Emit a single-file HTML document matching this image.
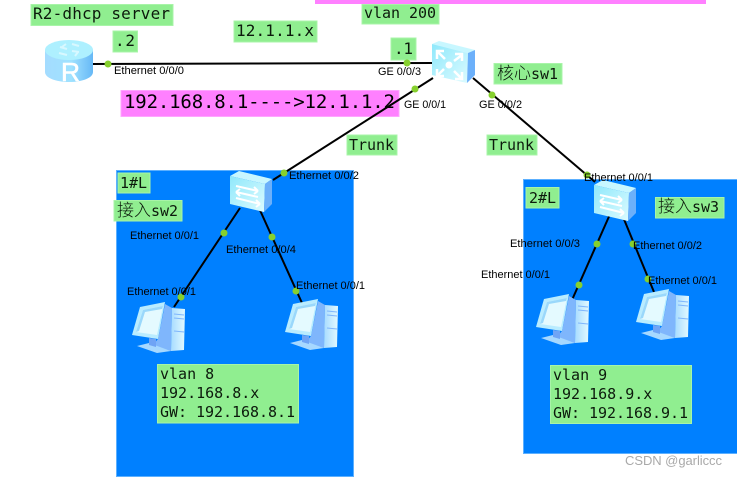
<!DOCTYPE html>
<html>
<head>
<meta charset="utf-8">
<style>
html,body{margin:0;padding:0;background:#fff;width:737px;height:477px;overflow:hidden}
svg{display:block}
.m{font-family:"DejaVu Sans Mono","Liberation Mono","Noto Sans CJK SC",monospace;font-size:15px;fill:#0c1a0c}
.k{font-family:"Noto Sans CJK SC","WenQuanYi Zen Hei",sans-serif;font-size:17px;font-weight:300}
.l{font-family:"Liberation Sans",Arial,sans-serif;font-size:11.2px;fill:#000}
.g{fill:#90ee90;stroke:#a8f4a8;stroke-width:1}
.c{stroke:#000;stroke-width:2;fill:none}
.d{fill:#86d02e}
</style>
</head>
<body>
<svg width="737" height="477" viewBox="0 0 737 477" xmlns="http://www.w3.org/2000/svg">
<defs>
<linearGradient id="sw" x1="0" y1="0" x2="1" y2="1"><stop offset="0" stop-color="#8fe8fb"/><stop offset="1" stop-color="#dcfbff"/></linearGradient>
<linearGradient id="rt" x1="0" y1="0" x2="1" y2="0"><stop offset="0" stop-color="#a4dcff"/><stop offset=".55" stop-color="#a0e2ff"/><stop offset="1" stop-color="#66b8f6"/></linearGradient>
<linearGradient id="tw" x1="0" y1="0" x2="1" y2="0"><stop offset="0" stop-color="#a8dcff"/><stop offset="1" stop-color="#e2f9ff"/></linearGradient>
<g id="switch">
<polygon points="1,5 10,0 43,8 36,13" fill="#c8f7ff"/>
<polygon points="1,5 36,13 35,41 1,33" fill="url(#sw)"/>
<polygon points="36,13 43,8 43,33 35,41" fill="#6cb0fa"/>
<g stroke="#fff" stroke-width="2" fill="none">
<path d="M7 15 L29 20 M29 20 l-4 -4 M29 20 l-4 3"/>
<path d="M29 26 L7 21 M7 21 l4 -3 M7 21 l4 4"/>
<path d="M7 27 L31 33 M31 33 l-4 -4 M31 33 l-4 3"/>
</g>
</g>
<g id="pc">
<polygon points="33,2 40,6 39,49 21,43 26,37" fill="#7fb6fc"/>
<polygon points="40,6 53,7 52,48 39,49" fill="url(#tw)"/>
<path d="M42 12 L52 13 M42 16 L52 17 M42 29 L52 30" stroke="#7fb6fc" stroke-width="1"/>
<polygon points="5,44 17,41 39,49 25,51" fill="#a6d8ff"/>
<polygon points="17,36 24,37 24,45 17,43" fill="#6fa4f5"/>
<polygon points="8,5 33,0 26,37 0,33" fill="#b9ecff"/>
<polygon points="11,8 31,4 25,33 4,30" fill="#e4faff"/>
<polygon points="11,8 31,4 30,7 13,10 7,29 4,30" fill="#9ad8fb"/>
</g>
</defs>

<rect x="116.5" y="170.5" width="237" height="306" fill="#0080ff" stroke="#5cb0ff"/>
<rect x="523.5" y="179.5" width="214" height="274" fill="#0080ff" stroke="#5cb0ff"/>

<rect x="315" y="-2" width="391" height="6" fill="#ff80ff"/>
<rect x="121" y="90.500" width="278" height="26" fill="#ff80ff" stroke="#ffa4ff"/>

<rect class="g" x="31" y="4.500" width="142" height="21"/>
<rect class="g" x="113" y="31" width="24.500" height="21"/>
<rect class="g" x="234" y="21" width="83" height="21"/>
<rect class="g" x="362" y="4.500" width="77" height="19.500"/>
<rect class="g" x="391" y="38" width="25" height="22"/>
<rect class="g" x="494" y="63.500" width="68" height="20.500"/>
<rect class="g" x="347" y="135" width="50" height="20"/>
<rect class="g" x="487" y="135" width="50" height="20"/>
<rect class="g" x="118" y="173" width="32" height="20"/>
<rect class="g" x="114" y="200.500" width="68" height="20.500"/>
<rect class="g" x="526" y="187.500" width="33" height="20.500"/>
<rect class="g" x="655.500" y="197.500" width="68.500" height="20.500"/>
<rect class="g" x="157.500" y="364.500" width="141" height="58.500" stroke="#6fc8b0"/>
<rect class="g" x="550.500" y="365.500" width="141" height="58"/>

<line class="c" x1="93" y1="64" x2="433" y2="63"/>
<line class="c" x1="433" y1="78" x2="273" y2="180"/>
<line class="c" x1="473" y1="78" x2="595" y2="182"/>
<line class="c" x1="240" y1="208" x2="174" y2="307"/>
<line class="c" x1="259" y1="208" x2="302" y2="303"/>
<line class="c" x1="611" y1="212" x2="572" y2="300"/>
<line class="c" x1="621" y1="212" x2="654" y2="292"/>

<g>
<path d="M45 50 V72 C45 78 56 82 69 82 C82 82 93 78 93 72 V50 Z" fill="url(#rt)"/>
<ellipse cx="69" cy="50" rx="24" ry="10" fill="#aef0ff"/>
<g stroke="#d8f8ff" stroke-width="2" fill="none"><path d="M60 47 L67 49 M72 44 L79 46 M79 52 L72 51 M67 55 L59 53 M66 44 L62 47 M75 56 L78 52"/></g>
</g>
<text x="61" y="81" style="font-family:'Liberation Sans',sans-serif;font-size:26px;fill:#fff;stroke:#fff;stroke-width:.6" textLength="19" lengthAdjust="spacingAndGlyphs">R</text>

<g transform="translate(432,41)">
<polygon points="0,3 7,0 43,9 36,12" fill="#c8f7ff"/>
<polygon points="0,3 36,12 35,42 0,34" fill="url(#sw)"/>
<polygon points="36,12 43,9 43,34 35,42" fill="#6cb0fa"/>
<circle cx="17" cy="24" r="3.500" fill="#fff"/>
<g stroke="#fff" stroke-width="2.500" fill="none">
<path d="M5 10 L13 18 M5 18 V10 H12"/>
<path d="M30 14 L22 20 M23 13 H30 V20"/>
<path d="M5 35 L12 28 M5 28 V35 H12"/>
<path d="M30 38 L22 30 M30 31 V38 H23"/>
</g>
</g>

<use href="#switch" x="229" y="171"/>
<use href="#switch" x="593" y="180"/>

<use href="#pc" x="132" y="302"/>
<use href="#pc" x="285" y="299"/>
<use href="#pc" x="536" y="294"/>
<use href="#pc" x="636" y="289"/>

<g class="d">
<circle cx="108" cy="64" r="3.500"/>
<circle cx="407" cy="63" r="3.500"/>
<circle cx="415" cy="89" r="3.500"/>
<circle cx="492" cy="95" r="3.500"/>
<circle cx="284" cy="173" r="3.500"/>
<circle cx="587" cy="175" r="3.500"/>
<circle cx="224" cy="233" r="3.500"/>
<circle cx="272" cy="237" r="3.500"/>
<circle cx="181" cy="297" r="3.500"/>
<circle cx="296" cy="291" r="3.500"/>
<circle cx="597" cy="244" r="3.500"/>
<circle cx="633" cy="244" r="3.500"/>
<circle cx="579" cy="285" r="3.500"/>
<circle cx="648" cy="279" r="3.500"/>
</g>

<text class="m" x="33" y="19" style="font-size:16px" textLength="137">R2-dhcp server</text>
<text class="m" x="115" y="46" style="font-size:16px" textLength="20">.2</text>
<text class="m" x="236" y="36" style="font-size:16px" textLength="78">12.1.1.x</text>
<text class="m" x="364" y="18" textLength="72">vlan 200</text>
<text class="m" x="394" y="54" style="font-size:16px" textLength="19">.1</text>
<text class="m" x="497" y="79"><tspan class="k">核心</tspan>sw1</text>
<text class="m" x="349" y="150" textLength="45">Trunk</text>
<text class="m" x="489" y="150" textLength="45">Trunk</text>
<text class="m" x="120" y="188" textLength="27">1#L</text>
<text class="m" x="117" y="216"><tspan class="k">接入</tspan>sw2</text>
<text class="m" x="529" y="203" textLength="27">2#L</text>
<text class="m" x="658" y="212"><tspan class="k">接入</tspan>sw3</text>
<text class="m" x="124" y="108" style="font-size:19px;fill:#000" textLength="271">192.168.8.1----&gt;12.1.1.2</text>

<text class="m" x="160" y="379">vlan 8</text>
<text class="m" x="160" y="398">192.168.8.x</text>
<text class="m" x="160" y="417" textLength="135">GW: 192.168.8.1</text>
<text class="m" x="553" y="380">vlan 9</text>
<text class="m" x="553" y="399">192.168.9.x</text>
<text class="m" x="553" y="418" textLength="135">GW: 192.168.9.1</text>

<text class="l" x="114" y="74" textLength="70" lengthAdjust="spacingAndGlyphs">Ethernet 0/0/0</text>
<text class="l" x="378" y="75" textLength="43" lengthAdjust="spacingAndGlyphs">GE 0/0/3</text>
<text class="l" x="404" y="108" textLength="42" lengthAdjust="spacingAndGlyphs">GE 0/0/1</text>
<text class="l" x="479" y="108" textLength="43" lengthAdjust="spacingAndGlyphs">GE 0/0/2</text>
<text class="l" x="289" y="179" textLength="70" lengthAdjust="spacingAndGlyphs">Ethernet 0/0/2</text>
<text class="l" x="584" y="181" textLength="69" lengthAdjust="spacingAndGlyphs">Ethernet 0/0/1</text>
<text class="l" x="130" y="239" textLength="69" lengthAdjust="spacingAndGlyphs">Ethernet 0/0/1</text>
<text class="l" x="226" y="253" textLength="70" lengthAdjust="spacingAndGlyphs">Ethernet 0/0/4</text>
<text class="l" x="127" y="295" textLength="69" lengthAdjust="spacingAndGlyphs">Ethernet 0/0/1</text>
<text class="l" x="296" y="289" textLength="69" lengthAdjust="spacingAndGlyphs">Ethernet 0/0/1</text>
<text class="l" x="510" y="247" textLength="70" lengthAdjust="spacingAndGlyphs">Ethernet 0/0/3</text>
<text class="l" x="633" y="249" textLength="69" lengthAdjust="spacingAndGlyphs">Ethernet 0/0/2</text>
<text class="l" x="481" y="278" textLength="69" lengthAdjust="spacingAndGlyphs">Ethernet 0/0/1</text>
<text class="l" x="648" y="284" textLength="69" lengthAdjust="spacingAndGlyphs">Ethernet 0/0/1</text>

<text x="625" y="465" style="font-family:'Liberation Sans',sans-serif;font-size:13px;fill:#a9a9a9" textLength="97">CSDN @garliccc</text>
</svg>
</body>
</html>
